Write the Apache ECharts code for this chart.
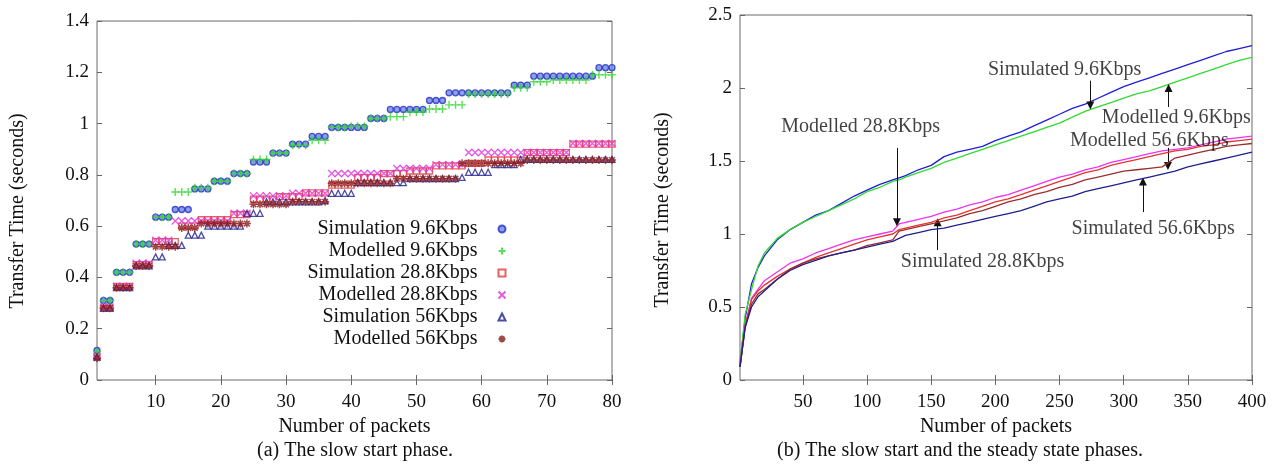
<!DOCTYPE html>
<html>
<head>
<meta charset="utf-8">
<script src="https://cdn.jsdelivr.net/npm/echarts@6/dist/echarts.min.js"></script>
<style>html,body{margin:0;padding:0;background:#fff;}#c{width:1275px;height:472px;}</style>
</head>
<body>
<div id="c"></div>
<script>
// ---------- (a) slow start phase : packets 1..80 ----------
const packetsA = [1,2,3,4,5,6,7,8,9,10,11,12,13,14,15,16,17,18,19,20,21,22,23,24,25,26,27,28,29,30,31,32,33,34,35,36,37,38,39,40,41,42,43,44,45,46,47,48,49,50,51,52,53,54,55,56,57,58,59,60,61,62,63,64,65,66,67,68,69,70,71,72,73,74,75,76,77,78,79,80];
const ticksXA = [10,20,30,40,50,60,70,80];

const simA96 = [0.115,0.31,0.31,0.42,0.42,0.42,0.53,0.53,0.53,0.635,0.635,0.635,0.665,0.665,0.665,0.745,0.745,0.745,0.775,0.775,0.775,0.805,0.805,0.805,0.85,0.85,0.85,0.885,0.885,0.885,0.92,0.92,0.92,0.95,0.95,0.95,0.985,0.985,0.985,0.985,0.985,0.985,1.02,1.02,1.02,1.055,1.055,1.055,1.055,1.055,1.055,1.09,1.09,1.09,1.12,1.12,1.12,1.12,1.12,1.12,1.12,1.12,1.12,1.12,1.15,1.15,1.15,1.185,1.185,1.185,1.185,1.185,1.185,1.185,1.185,1.185,1.185,1.218,1.218,1.218];
const modA96 = [0.11,0.31,0.31,0.42,0.42,0.42,0.53,0.53,0.53,0.635,0.635,0.635,0.733,0.733,0.733,0.75,0.75,0.75,0.775,0.775,0.775,0.805,0.805,0.805,0.86,0.86,0.86,0.885,0.885,0.885,0.915,0.915,0.915,0.935,0.935,0.935,0.985,0.985,0.985,0.99,0.99,0.99,1.02,1.02,1.02,1.027,1.027,1.027,1.045,1.045,1.045,1.057,1.057,1.057,1.073,1.073,1.073,1.115,1.115,1.115,1.115,1.115,1.115,1.115,1.14,1.14,1.14,1.163,1.163,1.163,1.17,1.17,1.17,1.17,1.17,1.17,1.19,1.19,1.19,1.19];
const simA288 = [0.09,0.28,0.28,0.365,0.365,0.365,0.45,0.45,0.45,0.54,0.54,0.54,0.54,0.6,0.6,0.6,0.625,0.625,0.625,0.625,0.625,0.645,0.645,0.645,0.705,0.705,0.705,0.705,0.715,0.715,0.715,0.715,0.73,0.73,0.73,0.73,0.76,0.76,0.76,0.76,0.79,0.79,0.79,0.79,0.805,0.805,0.805,0.805,0.815,0.815,0.815,0.815,0.835,0.835,0.835,0.835,0.835,0.845,0.845,0.845,0.858,0.858,0.858,0.858,0.858,0.858,0.887,0.887,0.887,0.887,0.887,0.887,0.887,0.92,0.92,0.92,0.92,0.92,0.92,0.92];
const modA288 = [0.09,0.285,0.285,0.365,0.365,0.365,0.455,0.455,0.455,0.545,0.545,0.545,0.62,0.62,0.62,0.62,0.62,0.62,0.62,0.62,0.62,0.65,0.65,0.65,0.718,0.718,0.718,0.718,0.718,0.718,0.728,0.728,0.728,0.728,0.728,0.728,0.805,0.805,0.805,0.805,0.805,0.805,0.805,0.805,0.805,0.805,0.825,0.825,0.825,0.825,0.825,0.825,0.84,0.84,0.84,0.84,0.84,0.887,0.887,0.887,0.887,0.887,0.887,0.887,0.887,0.887,0.887,0.887,0.887,0.887,0.887,0.887,0.887,0.922,0.922,0.922,0.922,0.922,0.922,0.922];
const simA56 = [0.09,0.28,0.28,0.36,0.36,0.36,0.445,0.445,0.445,0.48,0.48,0.525,0.525,0.525,0.565,0.565,0.565,0.6,0.6,0.6,0.6,0.6,0.6,0.65,0.65,0.65,0.695,0.695,0.695,0.695,0.695,0.695,0.695,0.695,0.695,0.7,0.728,0.728,0.728,0.728,0.77,0.77,0.77,0.77,0.77,0.77,0.77,0.77,0.785,0.785,0.785,0.785,0.785,0.785,0.785,0.785,0.79,0.81,0.81,0.81,0.81,0.84,0.84,0.84,0.84,0.86,0.86,0.86,0.86,0.86,0.86,0.86,0.86,0.86,0.86,0.86,0.86,0.86,0.86,0.86];
const modA56 = [0.085,0.28,0.28,0.36,0.36,0.36,0.445,0.445,0.445,0.52,0.52,0.52,0.52,0.593,0.593,0.593,0.61,0.61,0.61,0.61,0.61,0.61,0.61,0.61,0.685,0.685,0.685,0.685,0.685,0.685,0.695,0.695,0.695,0.695,0.695,0.695,0.767,0.767,0.767,0.767,0.767,0.767,0.767,0.767,0.767,0.767,0.785,0.785,0.785,0.785,0.785,0.785,0.785,0.785,0.785,0.785,0.845,0.845,0.845,0.845,0.845,0.845,0.845,0.845,0.845,0.845,0.858,0.858,0.858,0.858,0.858,0.858,0.858,0.858,0.858,0.858,0.858,0.858,0.858,0.858];

const namesA = ['Simulation 9.6Kbps','Modelled 9.6Kbps','Simulation 28.8Kbps','Modelled 28.8Kbps','Simulation 56Kbps','Modelled 56Kbps'];

// ---------- (b) slow start + steady state : packets 1..400 ----------
const packetsB = [1,5,10,15,20,30,40,50,60,70,80,90,100,110,120,125,130,140,150,160,170,180,190,200,210,220,230,240,250,260,270,280,290,300,310,320,330,340,350,360,370,380,390,400];
const ticksXB = [50,100,150,200,250,300,350,400];
const simB96 = [0.11,0.42,0.66,0.77,0.85,0.96,1.03,1.08,1.13,1.16,1.21,1.26,1.30,1.34,1.37,1.385,1.40,1.44,1.47,1.53,1.56,1.58,1.60,1.64,1.67,1.70,1.74,1.78,1.82,1.86,1.89,1.93,1.97,2.01,2.04,2.07,2.10,2.13,2.16,2.19,2.22,2.25,2.27,2.29];
const modB96 = [0.11,0.45,0.62,0.78,0.87,0.97,1.03,1.08,1.12,1.16,1.20,1.24,1.29,1.32,1.36,1.37,1.39,1.42,1.45,1.49,1.52,1.55,1.58,1.61,1.64,1.67,1.70,1.73,1.76,1.80,1.84,1.87,1.90,1.93,1.96,1.98,2.01,2.04,2.07,2.10,2.13,2.16,2.19,2.21];
const modB288 = [0.09,0.37,0.56,0.62,0.68,0.74,0.80,0.83,0.87,0.90,0.93,0.96,0.98,1.00,1.02,1.07,1.08,1.10,1.12,1.15,1.17,1.20,1.22,1.25,1.27,1.30,1.33,1.36,1.39,1.41,1.44,1.46,1.49,1.51,1.53,1.55,1.57,1.58,1.59,1.61,1.63,1.65,1.66,1.67];
const simB288 = [0.09,0.37,0.55,0.61,0.65,0.71,0.76,0.80,0.84,0.87,0.90,0.93,0.96,0.98,1.00,1.03,1.04,1.06,1.08,1.11,1.13,1.16,1.19,1.22,1.24,1.27,1.30,1.33,1.36,1.39,1.42,1.44,1.47,1.49,1.51,1.53,1.55,1.57,1.58,1.60,1.61,1.63,1.64,1.65];
const modB56 = [0.09,0.36,0.52,0.59,0.62,0.69,0.76,0.80,0.83,0.85,0.87,0.89,0.92,0.94,0.96,1.02,1.03,1.05,1.07,1.09,1.11,1.14,1.16,1.19,1.22,1.24,1.27,1.29,1.32,1.34,1.37,1.39,1.41,1.43,1.44,1.45,1.46,1.52,1.54,1.56,1.58,1.60,1.61,1.62];
const simB56 = [0.09,0.36,0.50,0.57,0.61,0.69,0.75,0.79,0.82,0.85,0.87,0.89,0.91,0.93,0.95,0.97,0.99,1.01,1.03,1.04,1.06,1.08,1.10,1.12,1.14,1.16,1.19,1.22,1.24,1.26,1.29,1.31,1.33,1.35,1.37,1.39,1.41,1.43,1.46,1.48,1.50,1.52,1.54,1.56];

// annotations of chart (b): label text, label centre (data units), arrow x, arrow start y, arrow tip y
const annoText = ['Simulated 9.6Kbps','Modelled 9.6Kbps','Modelled 56.6Kbps','Simulated 56.6Kbps','Modelled 28.8Kbps','Simulated 28.8Kbps'];
const annoX = [254, 341, 320, 323, 95, 190];
const annoY = [2.123, 1.795, 1.637, 1.034, 1.733, 0.808];
const arrowX = [274, 335, 334.5, 315, 123.3, 155];
const arrowFrom = [2.05, 1.87, 1.59, 1.15, 1.59, 0.89];
const arrowTo = [1.88, 2.00, 1.465, 1.36, 1.08, 1.08];

const FONT = 'Liberation Serif';
const TXT = '#111';
const chart = echarts.init(document.getElementById('c'));

function xAxisCfg(grid, min, max, ticks, main) {
  return {
    type: 'value', gridIndex: grid, min: min, max: max, position: main ? 'bottom' : 'top',
    axisLine: {show: false}, splitLine: {show: false},
    axisTick: {show: true, inside: true, length: 5, customValues: ticks, lineStyle: {color: '#666'}},
    axisLabel: {show: main, customValues: ticks, margin: 13, color: TXT, fontFamily: FONT, fontSize: 19},
    name: main ? 'Number of packets' : '', nameLocation: 'middle', nameGap: 31,
    nameTextStyle: {color: TXT, fontFamily: FONT, fontSize: 20}
  };
}
function yAxisCfg(grid, max, interval, main) {
  return {
    type: 'value', gridIndex: grid, min: 0, max: max, interval: interval, position: main ? 'left' : 'right',
    axisLine: {show: false}, splitLine: {show: false},
    axisTick: {show: true, inside: true, length: 5, lineStyle: {color: '#666'}},
    axisLabel: {show: main, margin: 8, color: TXT, fontFamily: FONT, fontSize: 19,
      formatter: v => String(+v.toFixed(2))}
  };
}
function pts(xs, ys) { return xs.map((x, i) => [x, ys[i]]); }

const PLUS = 'path://M5 0L5 10M0 5L10 5';
const CROSS = 'path://M0 0L10 10M10 0L0 10';
const STAR = 'path://M5 0L5 10M0 5L10 5M1.5 1.5L8.5 8.5M8.5 1.5L1.5 8.5';

const styleA = [
  {symbol: 'circle', size: 6, itemStyle: {color: '#6f86e8', borderColor: '#2430c0', borderWidth: 1.3}},
  {symbol: PLUS, size: 8, itemStyle: {color: 'none', borderColor: '#2ed82e', borderWidth: 1.4}},
  {symbol: 'rect', size: 6, itemStyle: {color: 'none', borderColor: '#e23a3a', borderWidth: 1.3}},
  {symbol: CROSS, size: 7, itemStyle: {color: 'none', borderColor: '#e02ee0', borderWidth: 1.3}},
  {symbol: 'triangle', size: 6, itemStyle: {color: 'none', borderColor: '#1e1e8c', borderWidth: 1.3}},
  {symbol: STAR, size: 8, itemStyle: {color: 'none', borderColor: '#8a1c1c', borderWidth: 1.5}}
];
const dataA = [simA96, modA96, simA288, modA288, simA56, modA56];

const seriesA = dataA.map((d, i) => ({
  type: 'scatter', name: namesA[i], xAxisIndex: 0, yAxisIndex: 0,
  data: pts(packetsA, d), symbol: styleA[i].symbol, symbolSize: styleA[i].size,
  itemStyle: styleA[i].itemStyle, silent: true, z: 2 + i
}));

const colorsB = ['#1f1fd6', '#33d833', '#ee33ee', '#e63232', '#9a2e2e', '#20208a'];
const dataB = [simB96, modB96, modB288, simB288, modB56, simB56];
const seriesB = dataB.map((d, i) => ({
  type: 'line', name: 'b' + i, xAxisIndex: 2, yAxisIndex: 2,
  data: pts(packetsB, d), showSymbol: false, symbol: 'none',
  lineStyle: {color: colorsB[i], width: 1.3}, silent: true, z: 2 + i
}));

const annoSeries = {
  type: 'scatter', name: 'annotations', xAxisIndex: 2, yAxisIndex: 2,
  data: annoX.map((x, i) => [x, annoY[i], annoText[i]]),
  symbolSize: 1, itemStyle: {color: 'rgba(0,0,0,0)'}, silent: true, z: 20,
  label: {show: true, position: 'inside', formatter: p => p.data[2],
    color: TXT, fontFamily: FONT, fontSize: 20},
  markLine: {
    silent: true, symbol: ['none', 'triangle'], symbolSize: 8,
    lineStyle: {color: '#111', width: 1, type: 'solid'}, label: {show: false},
    emphasis: {disabled: true},
    data: arrowX.map((x, i) => [{coord: [x, arrowFrom[i]]}, {coord: [x, arrowTo[i]]}])
  }
};

chart.setOption({
  animation: false,
  backgroundColor: '#fff',
  grid: [
    {left: 97, top: 21, width: 515, height: 359, show: true, borderColor: '#6a6a6a', borderWidth: 1, backgroundColor: 'transparent'},
    {left: 740, top: 15, width: 512, height: 365, show: true, borderColor: '#6a6a6a', borderWidth: 1, backgroundColor: 'transparent'}
  ],
  xAxis: [
    xAxisCfg(0, 1, 80, ticksXA, true),
    xAxisCfg(0, 1, 80, ticksXA, false),
    xAxisCfg(1, 1, 400, ticksXB, true),
    xAxisCfg(1, 1, 400, ticksXB, false)
  ],
  yAxis: [
    yAxisCfg(0, 1.4, 0.2, true),
    yAxisCfg(0, 1.4, 0.2, false),
    yAxisCfg(1, 2.5, 0.5, true),
    yAxisCfg(1, 2.5, 0.5, false)
  ],
  legend: {
    data: namesA, orient: 'vertical', align: 'right', right: 767, top: 219,
    itemWidth: 7, itemHeight: 7, itemGap: 2, padding: 0, selectedMode: false,
    textStyle: {color: TXT, fontFamily: FONT, fontSize: 20, padding: [0, 16, 0, 0]}
  },
  graphic: [
    {type: 'text', x: 18, y: 211, rotation: Math.PI / 2,
      style: {text: 'Transfer Time (seconds)', font: '20px "Liberation Serif"', fill: TXT, align: 'center', verticalAlign: 'middle'}},
    {type: 'text', x: 663, y: 210, rotation: Math.PI / 2,
      style: {text: 'Transfer Time (seconds)', font: '20px "Liberation Serif"', fill: TXT, align: 'center', verticalAlign: 'middle'}},
    {type: 'text', x: 355, y: 451,
      style: {text: '(a) The slow start phase.', font: '20px "Liberation Serif"', fill: TXT, align: 'center', verticalAlign: 'middle'}},
    {type: 'text', x: 960, y: 451,
      style: {text: '(b) The slow start and the steady state phases.', font: '20px "Liberation Serif"', fill: TXT, align: 'center', verticalAlign: 'middle'}}
  ],
  series: seriesA.concat(seriesB, [annoSeries])
});
</script>
</body>
</html>
